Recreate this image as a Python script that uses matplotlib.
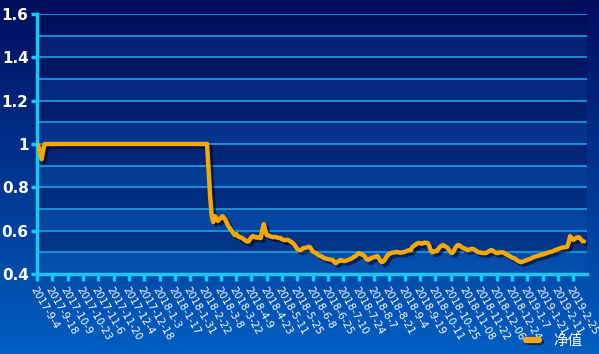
import matplotlib
matplotlib.use("Agg")
import matplotlib.pyplot as plt
import matplotlib.patheffects as pe
from matplotlib.lines import Line2D
import numpy as np

tick_labels = ["2017-9-4", "2017-9-18", "2017-10-9", "2017-10-23", "2017-11-6", "2017-11-20",
               "2017-12-4", "2017-12-18", "2018-1-3", "2018-1-17", "2018-1-31", "2018-2-22",
               "2018-3-8", "2018-3-22", "2018-4-9", "2018-4-23", "2018-5-11", "2018-5-25",
               "2018-6-8", "2018-6-25", "2018-7-10", "2018-7-24", "2018-8-7", "2018-8-21",
               "2018-9-4", "2018-9-19", "2018-10-11", "2018-10-25", "2018-11-08", "2018-11-22",
               "2018-12-06", "2018-12-24", "2019-1-7", "2019-1-21", "2019-2-11", "2019-2-25"]

nav = [
    1.0, 0.99, 0.96, 0.93, 0.97, 1.0, 1.0, 1.0, 1.0, 1.0,
    1.0, 1.0, 1.0, 1.0, 1.0, 1.0, 1.0, 1.0, 1.0, 1.0,
    1.0, 1.0, 1.0, 1.0, 1.0, 1.0, 1.0, 1.0, 1.0, 1.0,
    1.0, 1.0, 1.0, 1.0, 1.0, 1.0, 1.0, 1.0, 1.0, 1.0,
    1.0, 1.0, 1.0, 1.0, 1.0, 1.0, 1.0, 1.0, 1.0, 1.0,
    1.0, 1.0, 1.0, 1.0, 1.0, 1.0, 1.0, 1.0, 1.0, 1.0,
    1.0, 1.0, 1.0, 1.0, 1.0, 1.0, 1.0, 1.0, 1.0, 1.0,
    1.0, 1.0, 1.0, 1.0, 1.0, 1.0, 1.0, 1.0, 1.0, 1.0,
    1.0, 1.0, 1.0, 1.0, 1.0, 1.0, 1.0, 1.0, 1.0, 1.0,
    1.0, 1.0, 1.0, 1.0, 1.0, 1.0, 1.0, 1.0, 1.0, 1.0,
    1.0, 1.0, 1.0, 1.0, 1.0, 1.0, 1.0, 1.0, 1.0, 1.0,
    1.0, 1.0, 0.88, 0.76, 0.67, 0.64, 0.667, 0.66, 0.645, 0.652,
    0.658, 0.667, 0.66, 0.65, 0.635, 0.62, 0.61, 0.60, 0.59, 0.58,
    0.585, 0.575, 0.57, 0.57, 0.565, 0.56, 0.555, 0.55, 0.55, 0.56,
    0.57, 0.575, 0.572, 0.568, 0.57, 0.567, 0.566, 0.60, 0.63, 0.60,
    0.58, 0.578, 0.575, 0.572, 0.57, 0.571, 0.57, 0.568, 0.566, 0.566,
    0.56, 0.557, 0.556, 0.558, 0.557, 0.552, 0.548, 0.543, 0.535, 0.525,
    0.515, 0.51, 0.51, 0.515, 0.52, 0.52, 0.522, 0.525, 0.525, 0.515,
    0.505, 0.50, 0.497, 0.49, 0.485, 0.483, 0.48, 0.475, 0.472, 0.47,
    0.469, 0.467, 0.466, 0.465, 0.455, 0.45, 0.455, 0.46, 0.465, 0.462,
    0.46, 0.46, 0.462, 0.465, 0.468, 0.47, 0.475, 0.48, 0.483, 0.49,
    0.497, 0.493, 0.49, 0.488, 0.48, 0.47, 0.465, 0.468, 0.472, 0.476,
    0.478, 0.48, 0.483, 0.475, 0.462, 0.455, 0.458, 0.465, 0.478, 0.488,
    0.492, 0.497, 0.498, 0.50, 0.50, 0.502, 0.50, 0.498, 0.50, 0.50,
    0.502, 0.505, 0.508, 0.51, 0.51, 0.525, 0.53, 0.535, 0.54, 0.543,
    0.543, 0.54, 0.542, 0.545, 0.544, 0.543, 0.53, 0.51, 0.50, 0.503,
    0.506, 0.506, 0.515, 0.525, 0.53, 0.534, 0.53, 0.525, 0.52, 0.51,
    0.50, 0.497, 0.505, 0.52, 0.53, 0.534, 0.53, 0.525, 0.52, 0.518,
    0.514, 0.51, 0.512, 0.515, 0.516, 0.515, 0.51, 0.505, 0.50, 0.50,
    0.498, 0.497, 0.497, 0.497, 0.50, 0.505, 0.51, 0.51, 0.505, 0.50,
    0.497, 0.497, 0.50, 0.50, 0.50, 0.497, 0.492, 0.488, 0.485, 0.48,
    0.476, 0.474, 0.47, 0.465, 0.46, 0.457, 0.455, 0.457, 0.46, 0.462,
    0.465, 0.468, 0.47, 0.474, 0.478, 0.48, 0.482, 0.484, 0.486, 0.488,
    0.49, 0.492, 0.495, 0.497, 0.50, 0.502, 0.503, 0.506, 0.51, 0.512,
    0.515, 0.518, 0.52, 0.522, 0.523, 0.524, 0.525, 0.545, 0.575, 0.565,
    0.557, 0.562, 0.567, 0.57, 0.568, 0.56, 0.552, 0.55,
]

series_name = "净值"
label_step = 10

fig = plt.figure(figsize=(5.99, 3.54), dpi=100)

# figure background gradient
bg = fig.add_axes([0, 0, 1, 1], zorder=-10)
grad = np.linspace(0, 1, 256).reshape(-1, 1)
top = np.array([0.0, 0.05, 0.37])
bot = np.array([0.0, 0.37, 0.76])
img = top[None, None, :] * (1 - grad[:, :, None]) + bot[None, None, :] * grad[:, :, None]
bg.imshow(img, aspect="auto", extent=[0, 1, 0, 1])
bg.set_axis_off()

ax = fig.add_axes([37 / 599, 1 - 274 / 354, (587 - 37) / 599, (274 - 14) / 354])
ax.set_facecolor("none")

x = np.arange(len(nav))
ax.set_xlim(0, 359)
ax.set_ylim(0.4, 1.6)

# alternating bands
yb = np.arange(0.4, 1.6, 0.1)
for k, y0 in enumerate(yb):
    if k % 2 == 1:
        ax.axhspan(y0, y0 + 0.1, color="#000a40", alpha=0.25, lw=0, zorder=0)
    else:
        ax.axhspan(y0, y0 + 0.1, color="#3070c0", alpha=0.12, lw=0, zorder=0)

for y0 in np.arange(0.5, 1.61, 0.1):
    ax.axhline(y0, color="#1aa0e6", lw=1.2, zorder=1)

line, = ax.plot(x, nav, color="#f5a800", lw=3.2, solid_joinstyle="round", solid_capstyle="round", zorder=3,
                label=series_name,
                path_effects=[pe.SimpleLineShadow(offset=(2, -2), shadow_color="#000020", alpha=0.55),
                              pe.Normal()])

for side in ["top", "right"]:
    ax.spines[side].set_visible(False)
for side in ["left", "bottom"]:
    ax.spines[side].set_color("#18c8f4")
    ax.spines[side].set_linewidth(2.5)

ax.set_yticks(np.arange(0.4, 1.61, 0.2))
ax.set_yticklabels(["0.4", "0.6", "0.8", "1", "1.2", "1.4", "1.6"])
ax.tick_params(axis="y", colors="#18c8f4", width=2.5, length=4, labelcolor="white", labelsize=11, pad=2)
for t in ax.get_yticklabels():
    t.set_fontweight("bold")

xt = np.arange(len(tick_labels)) * label_step
ax.set_xticks(xt)
ax.set_xticklabels(tick_labels, rotation=-60, ha="left", va="top", rotation_mode="anchor",
                   fontsize=7.5, color="white")
ax.tick_params(axis="x", colors="#18c8f4", width=2.5, length=5, labelcolor="white", pad=3)

handle = Line2D([], [], color="#f5a800", lw=4.5, solid_capstyle="round",
                path_effects=[pe.SimpleLineShadow(offset=(1.5, -1.5), shadow_color="#000020", alpha=0.55),
                              pe.Normal()])
fig.legend(handles=[handle], labels=[series_name], loc="lower right",
           bbox_to_anchor=(0.995, -0.02), frameon=False, handlelength=0.9, handletextpad=1.0,
           prop={"family": ["Noto Sans CJK SC", "DejaVu Sans"], "size": 10.5},
           labelcolor="white")

fig.savefig("out.png", dpi=100)
